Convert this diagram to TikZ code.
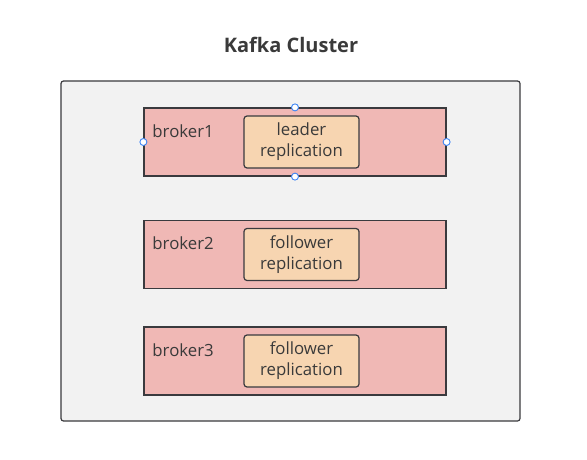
\documentclass[tikz,border=0pt]{standalone}
\usepackage{fontspec}
\setmainfont{Open Sans}
\usetikzlibrary{calc}
\definecolor{clusterfill}{HTML}{F2F2F2}
\definecolor{brokerfill}{HTML}{F0B8B5}
\definecolor{replfill}{HTML}{F7D5B1}
\definecolor{linegray}{HTML}{3A3A3E}
\definecolor{textgray}{HTML}{3A3A3A}
\definecolor{handleblue}{HTML}{3D85F5}
\def\brokers{1/142/leader, 2/254.5/follower, 3/361/follower}

\begin{document}
\begin{tikzpicture}[x=1pt,y=-1pt,
  cluster/.style={draw=linegray,line width=1.2pt,fill=clusterfill,rounded corners=2.5pt},
  broker/.style={draw=linegray,line width=1.2pt,fill=brokerfill,minimum width=302pt,minimum height=68pt,inner sep=0pt},
  repl/.style={draw=linegray,line width=1.2pt,fill=replfill,rounded corners=3pt,minimum width=115pt,minimum height=52pt,inner sep=0pt,
    align=center,text=textgray,font=\fontsize{16.8}{21}\selectfont},
  handle/.style={circle,draw=handleblue,fill=white,line width=0.9pt,minimum size=7pt,inner sep=0pt}]
  \useasboundingbox (0,0) rectangle (587,460);
  \fill[white] (0,0) rectangle (587,460);
  \node[text=textgray,font=\fontsize{20}{24}\selectfont\bfseries] (title) at (291,45) {Kafka Cluster};
  \draw[cluster] (61,81) rectangle (520,421);
  \foreach \n/\y/\role in \brokers{
    \node[broker] (broker\n) at (295,\y) {};
    \node[anchor=west,text=textgray,font=\fontsize{16.8}{21}\selectfont] (lbl\n) at ($(broker\n.west)+(5.5,-11)$) {broker\n};
    \node[repl] (repl\n) at ($(broker\n.center)+(6.5,0)$) {\role\\replication};
  }
  % selection handles
  \foreach \a in {north,south,east,west}{
    \node[handle] at (broker1.\a) {};
  }
\end{tikzpicture}
\end{document}
